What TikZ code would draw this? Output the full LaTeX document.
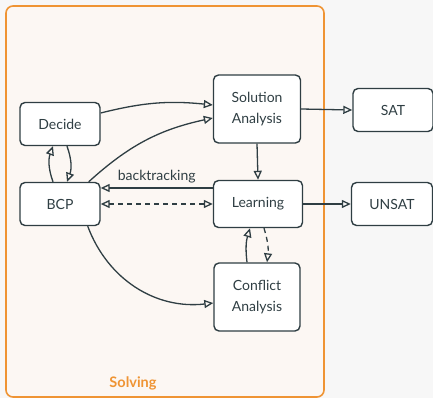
\documentclass[tikz,border=0pt]{standalone}
\usepackage{fontspec}
\setmainfont{Lato}
\usetikzlibrary{arrows.meta,positioning}
\definecolor{pagebg}{HTML}{F7F7F7}
\definecolor{framebg}{HTML}{FCF7F3}
\definecolor{frameor}{HTML}{EF9434}
\definecolor{ink}{HTML}{2F3E43}
\tikzset{
	blk/.style={draw=ink, fill=white, line width=1.4pt, rounded corners=5pt, align=center,
		text=ink, font=\fontsize{14}{21}\selectfont, inner sep=2pt},
	link/.style={draw=ink, line width=1.3pt, -{Triangle[open,length=9pt,width=8pt]}},
	dlink/.style={link, dash pattern=on 5pt off 4pt},
}
\begin{document}
\begin{tikzpicture}[x=1pt,y=-1pt]
		\useasboundingbox[fill=pagebg] (0,0) rectangle (433,398);
		\draw [frameor, fill=framebg, line width=1.6pt, rounded corners=7pt] (6,6) rectangle (324,397);
		\node [text=frameor, font=\fontsize{14.5}{16}\selectfont\bfseries] (solving) at (133,383) {Solving};

		\node [blk, minimum width=80pt, minimum height=43pt] (decide) at (60,124) {Decide};
		\node [blk, minimum width=80pt, minimum height=43pt] (bcp) at (60,204) {BCP};
		\node [blk, minimum width=87pt, minimum height=68pt] (solution) at (257,109) {Solution\\Analysis};
		\node [blk, minimum width=89pt, minimum height=47pt] (learning) at (258,204) {Learning};
		\node [blk, minimum width=86pt, minimum height=68pt] (conflict) at (257,297) {Conflict\\Analysis};
		\node [blk, minimum width=80pt, minimum height=43pt] (sat) at (393,110) {SAT};
		\node [blk, minimum width=81pt, minimum height=43pt] (unsat) at (392,204) {UNSAT};

		\draw [link] ([yshift=11pt]decide.east) to[bend left=10] ([yshift=4pt]solution.west);
		\draw [link] (bcp.north east) ++(-12pt,0) to[bend left=15] ([yshift=-9pt]solution.west);
		\draw [link] ([xshift=7pt]decide.south) to[bend left=20] ([xshift=7pt]bcp.north);
		\draw [link] ([xshift=-7pt]bcp.north) to[bend left=20] ([xshift=-7pt]decide.south);
		\draw [link] ([yshift=16pt]learning.west) -- ([yshift=16pt]bcp.east)
			node [midway, above=1pt, text=ink, font=\fontsize{14}{16}\selectfont] {backtracking};
		\draw [dlink, {Triangle[open,length=9pt,width=8pt]}-{Triangle[open,length=9pt,width=8pt]}] (bcp.east) -- (learning.west);
		\draw [link] (solution.south) -- (learning.north);
		\draw [dlink] ([xshift=6pt]learning.south) to[bend left=12] ([xshift=10pt]conflict.north);
		\draw [link] ([xshift=-10pt]conflict.north) to[bend left=12] ([xshift=-8pt]learning.south);
		\draw [link] (bcp.south east) ++(-13pt,0) to[bend right=38] ([yshift=-6pt]conflict.west);
		\draw [link] (solution.east) -- (sat.west);
		\draw [link] (learning.east) -- (unsat.west);
	\end{tikzpicture}
\end{document}
